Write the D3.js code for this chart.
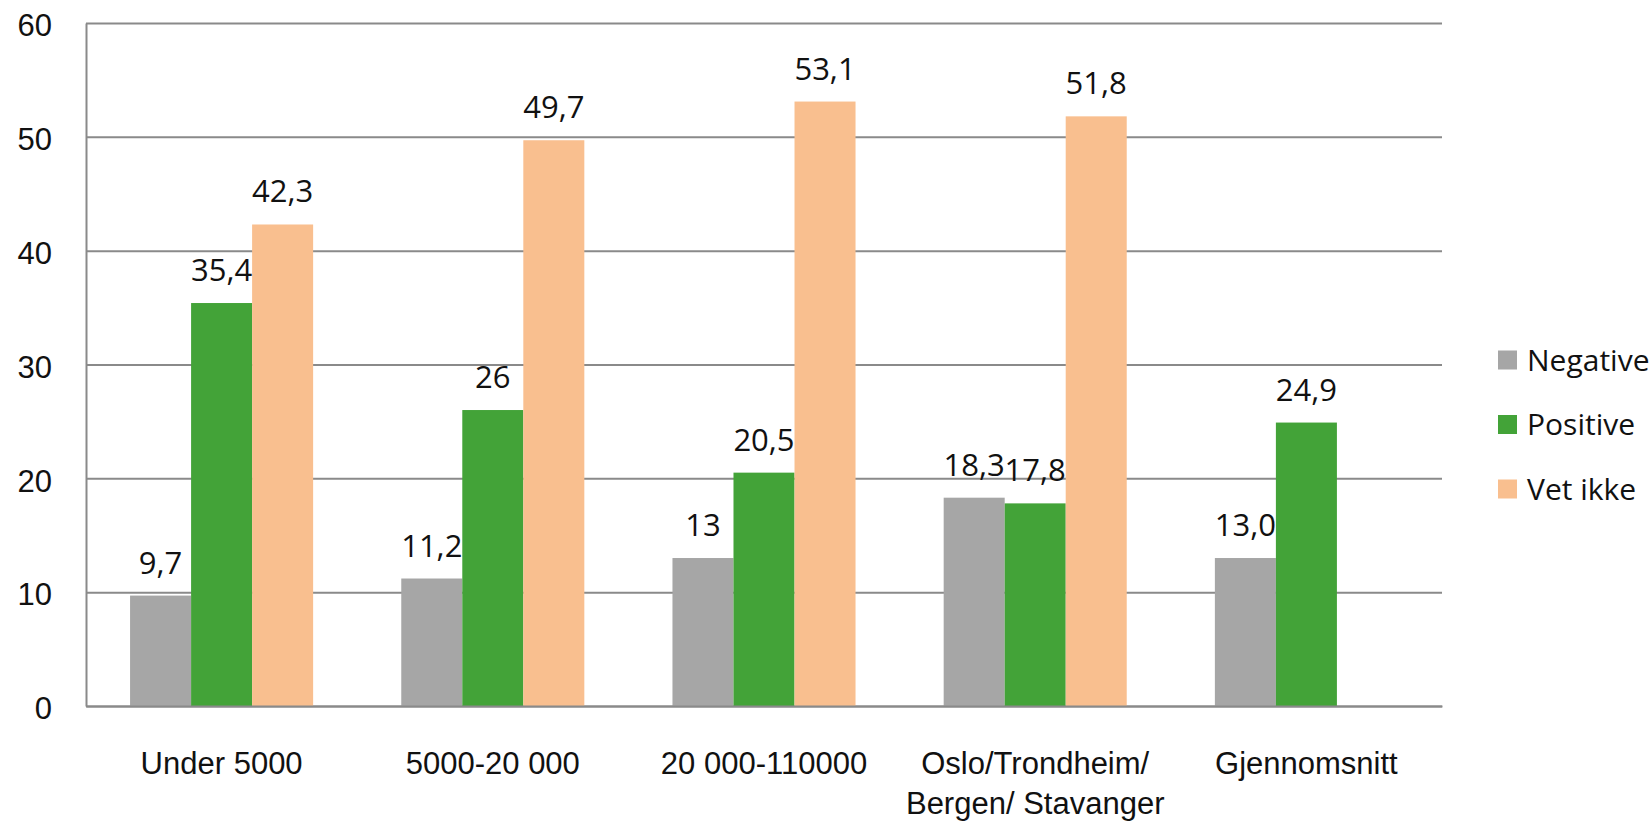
<!DOCTYPE html>
<html>
<head>
<meta charset="utf-8">
<script src="https://cdn.jsdelivr.net/npm/d3@7"></script>
<style>
  body { margin: 0; background: #fff; }
  svg { display: block; font-family: "Open Sans", sans-serif; }
  .lbl { font-size: 31px; fill: #111; }
  .leg { font-size: 30px; fill: #111; }
</style>
</head>
<body>
<div id="chart"></div>
<script>
// data
const categories = ["Under 5000", "5000-20 000", "20 000-110000", "Oslo/Trondheim/\nBergen/ Stavanger", "Gjennomsnitt"];
const seriesNames = ["Negative", "Positive", "Vet ikke"];
const negative = [9.7, 11.2, 13, 18.3, 13.0];
const positive = [35.4, 26, 20.5, 17.8, 24.9];
const vetIkke = [42.3, 49.7, 53.1, 51.8, null];
const negativeLabels = ["9,7", "11,2", "13", "18,3", "13,0"];
const positiveLabels = ["35,4", "26", "20,5", "17,8", "24,9"];
const vetIkkeLabels = ["42,3", "49,7", "53,1", "51,8", null];
const yTicks = [0, 10, 20, 30, 40, 50, 60];

const colors = ["#a6a6a6", "#43a338", "#f9bf8f"];
const seriesValues = [negative, positive, vetIkke];
const seriesLabels = [negativeLabels, positiveLabels, vetIkkeLabels];

const W = 1652, H = 823;
const margin = { top: 23, right: 210, bottom: 117, left: 86 };
const width = W - margin.left - margin.right;
const height = H - margin.top - margin.bottom;

const svg = d3.select("#chart").append("svg")
    .attr("width", W)
    .attr("height", H);

const g = svg.append("g")
    .attr("transform", `translate(${margin.left},${margin.top})`);

const y = d3.scaleLinear().domain([0, 60]).range([height, 0]);

const x0 = d3.scaleBand()
    .domain(categories)
    .range([0, width])
    .paddingInner(0.325)
    .paddingOuter(0.1625);

const x1 = d3.scaleBand()
    .domain(seriesNames)
    .range([0, x0.bandwidth()]);

// gridlines
const grid = g.append("g")
    .call(d3.axisLeft(y).tickValues(yTicks).tickSize(-width).tickFormat(""));
grid.select(".domain").remove();
grid.selectAll("line").attr("stroke", "#8a8a8a").attr("stroke-width", 2);

// y axis
const yAxis = g.append("g")
    .call(d3.axisLeft(y).tickValues(yTicks).tickSize(0).tickPadding(34));
yAxis.select(".domain").attr("stroke", "#8a8a8a").attr("stroke-width", 2);
yAxis.selectAll("text")
    .attr("class", "lbl")
    .attr("font-family", null)
    .attr("dy", "0.41em");

// bars
const rows = [];
categories.forEach((c, i) => {
    seriesNames.forEach((s, j) => {
        if (seriesValues[j][i] != null) {
            rows.push({ cat: c, series: s, value: seriesValues[j][i], label: seriesLabels[j][i], color: colors[j] });
        }
    });
});

g.selectAll("rect.bar")
    .data(rows)
    .enter()
    .append("rect")
    .attr("class", "bar")
    .attr("x", d => x0(d.cat) + x1(d.series))
    .attr("y", d => y(d.value))
    .attr("width", x1.bandwidth())
    .attr("height", d => y(0) - y(d.value))
    .attr("fill", d => d.color);

g.selectAll("text.val")
    .data(rows)
    .enter()
    .append("text")
    .attr("class", "lbl val")
    .attr("text-anchor", "middle")
    .attr("x", d => x0(d.cat) + x1(d.series) + x1.bandwidth() / 2)
    .attr("y", d => y(d.value) - 22)
    .text(d => d.label);

// x axis
const xAxis = g.append("g")
    .attr("transform", `translate(0,${height})`)
    .call(d3.axisBottom(x0).tickSize(0).tickPadding(0));
xAxis.select(".domain").attr("stroke", "#8a8a8a").attr("stroke-width", 2);
xAxis.selectAll("text").each(function(d) {
    const t = d3.select(this)
        .attr("class", "lbl")
        .attr("font-family", null)
        .attr("dy", null)
        .attr("y", 0)
        .text(null);
    d.split("\n").forEach((line, k) => {
        t.append("tspan").attr("x", 0).attr("y", 68 + k * 40).text(line);
    });
});

// legend
const legend = svg.append("g").attr("transform", "translate(1498,360)");
seriesNames.forEach((s, i) => {
    const row = legend.append("g").attr("transform", `translate(0,${i * 64.5})`);
    row.append("rect")
        .attr("x", 0).attr("y", -9.5)
        .attr("width", 19).attr("height", 19)
        .attr("fill", colors[i]);
    row.append("text")
        .attr("class", "leg")
        .attr("x", 29)
        .attr("y", 0)
        .attr("dy", "0.36em")
        .text(s);
});
</script>
</body>
</html>
